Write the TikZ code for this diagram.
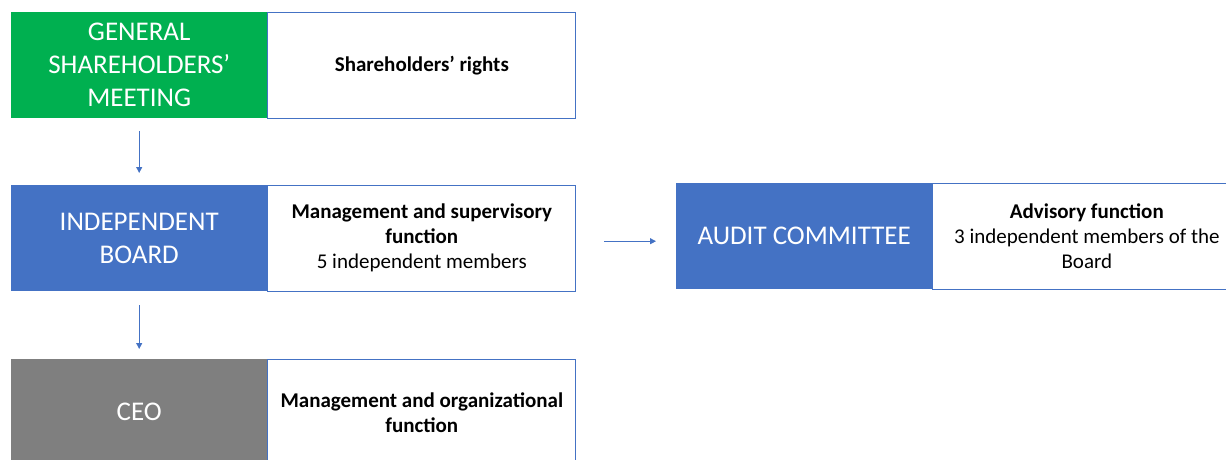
\documentclass[tikz,border=0pt]{standalone}
\usepackage{fontspec}
\setmainfont{Carlito}
\usetikzlibrary{arrows.meta,positioning}
\definecolor{gsmgreen}{HTML}{00B050}
\definecolor{boardblue}{HTML}{4472C4}
\definecolor{ceogray}{HTML}{7F7F7F}

\begin{document}
\begin{tikzpicture}[x=1pt,y=-1pt,>={Triangle[length=6pt,width=6pt]},
  organ/.style={anchor=north west,minimum width=256pt,minimum height=106pt,inner sep=0pt,
    text=white,align=center,font=\fontsize{27}{33}\selectfont},
  role/.style={right=0pt of #1,draw=boardblue,line width=0.9pt,fill=white,minimum width=308pt,
    minimum height=106pt,inner sep=0pt,align=center,font=\fontsize{21}{25}\selectfont},
  link/.style={->,boardblue,line width=0.9pt}]
\useasboundingbox (0,0) rectangle (1226,459);
\clip (0,0) rectangle (1226,459);
% left column
\node[organ,fill=gsmgreen] (gsm) at (11,12) {GENERAL\\SHAREHOLDERS’\\MEETING};
\node[role=gsm] (gsmrole) {\textbf{Shareholders’ rights}};
\node[organ,fill=boardblue] (board) at (11,185) {INDEPENDENT\\BOARD};
\node[role=board] (boardrole) {\textbf{Management and supervisory}\\\textbf{function}\\5 independent members};
\node[organ,fill=ceogray] (ceo) at (11,359) {CEO};
\node[role=ceo] (ceorole) {\textbf{Management and organizational}\\\textbf{function}};
% committee
\node[organ,fill=boardblue] (audit) at (676,183) {AUDIT COMMITTEE};
\node[role=audit] (auditrole) {\textbf{Advisory function}\\3 independent members of the\\Board};
% arrows
\draw[link,shorten <=13pt,shorten >=12pt] (gsm.south) -- (board.north);
\draw[link,shorten <=14pt,shorten >=10pt] (board.south) -- (ceo.north);
\draw[link,shorten <=28pt,shorten >=20pt] ([yshift=-3pt]boardrole.east) -- ([yshift=-3pt]boardrole.east -| audit.west);
\end{tikzpicture}
\end{document}
